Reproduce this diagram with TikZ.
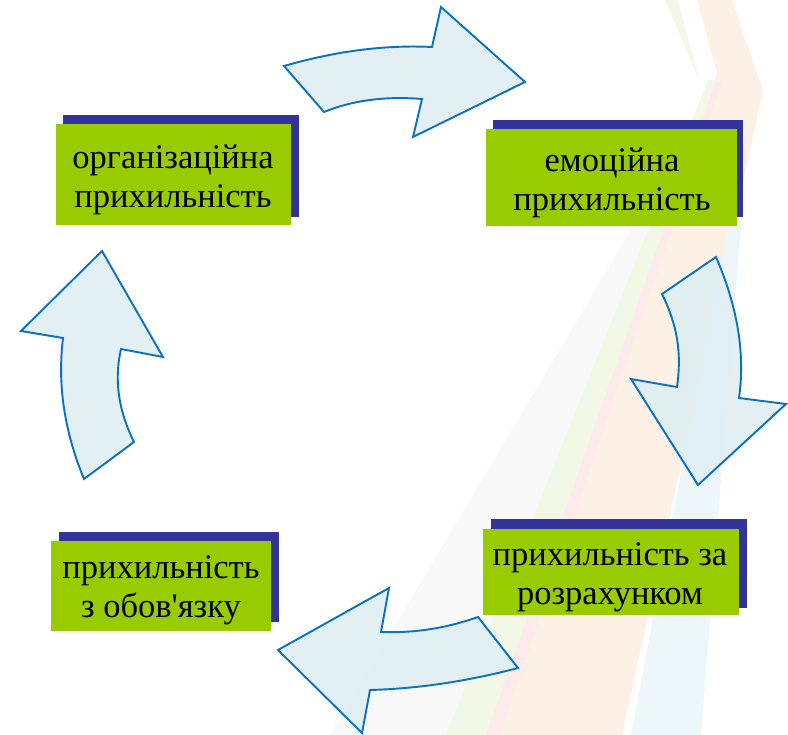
\documentclass[tikz,border=0pt]{standalone}
\usepackage{fontspec}
\newfontfamily\boxfont{Liberation Serif}
\definecolor{boxgreen}{HTML}{99CC00}
\definecolor{boxshadow}{HTML}{333399}
\definecolor{arrowfill}{HTML}{DDEEF2}
\definecolor{arrowline}{HTML}{0A70C0}
\definecolor{bgpeach}{HTML}{FDF1E6}
\definecolor{bggreen}{HTML}{F3F8E6}
\definecolor{bgpink}{HTML}{FCEBEA}
\definecolor{bgblue}{HTML}{EDF6F9}
\definecolor{bggrey}{HTML}{F8F8F8}
\tikzset{
  greenbox/.style={fill=boxgreen, draw=none, inner sep=0pt},
  boxtext/.style={inner sep=0pt, align=center,
    font=\boxfont\fontsize{34.5}{39}\selectfont, text=black},
  shadowbox/.style={fill=boxshadow, draw=none, inner sep=0pt},
  bigarrow/.style={fill=arrowfill, fill opacity=0.85, draw=arrowline, line width=1.9pt, line join=miter},
}
\begin{document}
\begin{tikzpicture}[x=1pt,y=-1pt]
\useasboundingbox (0,0) rectangle (788,735);
\fill[white] (0,0) rectangle (788,735);
% background streaks
\fill[bggrey] (640,215) -- (660,225) -- (446,735) -- (330,735) -- cycle;
\fill[bgpeach] (697,0) -- (732,0) -- (763,91) -- (622,735) -- (490,735) -- (717,73) -- cycle;
\fill[bgpink] (714,82) -- (722,82) -- (500,735) -- (484,735) -- cycle;
\fill[bggreen] (708,80) -- (716,80) -- (486,735) -- (446,735) -- cycle;
\fill[bggreen] (665,0) -- (678,0) -- (699,80) -- cycle;
\fill[bgblue] (728,225) -- (741,225) -- (701,735) -- (631,735) -- cycle;

% boxes
\node[shadowbox, minimum width=236pt, minimum height=102pt] (s1) at (181,166) {};
\node[greenbox, minimum width=235pt, minimum height=101pt] (b1) at (173.5,174.5) {};
\node[boxtext] (t1) at (173,180) {організаційна\\прихильність};

\node[shadowbox, minimum width=250pt, minimum height=97pt] (s2) at (618,168.5) {};
\node[greenbox, minimum width=251pt, minimum height=97pt] (b2) at (611.5,177.5) {};
\node[boxtext] (t2) at (612,182.5) {емоційна\\прихильність};

\node[shadowbox, minimum width=256pt, minimum height=89pt] (s3) at (619,563.5) {};
\node[greenbox, minimum width=256pt, minimum height=86pt] (b3) at (611,572) {};
\node[boxtext] (t3) at (610,577) {прихильність за\\розрахунком};

\node[shadowbox, minimum width=220pt, minimum height=90pt] (s4) at (169,577) {};
\node[greenbox, minimum width=220pt, minimum height=90pt] (b4) at (161,586) {};
\node[boxtext] (t4) at (161,590.5) {прихильність\\з обов'язку};

% arrows
\draw[bigarrow] (284,66) -- (324,112) .. controls (352.7,100.3) and (385.3,96) .. (422,99) -- (413,137)
  -- (525,82) -- (441,7) -- (432,47) .. controls (385.3,44.7) and (336,51) .. (284,66) -- cycle;
\draw[bigarrow] (716,257) -- (662,294) .. controls (677,324.7) and (682,351.7) .. (677,387) -- (631,379)
  -- (698,485) -- (786,404) -- (739,398) .. controls (745.3,354) and (737.7,307) .. (716,257) -- cycle;
\draw[bigarrow] (478,617) -- (518,668) .. controls (467.3,681.3) and (418,688.7) .. (370,690) -- (362,733)
  -- (278,650) -- (389,588) -- (381,632) .. controls (413.7,633.3) and (446,628.3) .. (478,617) -- cycle;
\draw[bigarrow] (84,479) -- (134,442) .. controls (118.3,410.3) and (114,379.7) .. (121,349) -- (163,357)
  -- (102,251) -- (21,331) -- (63,338) .. controls (57.3,384.3) and (64.3,431.3) .. (84,479) -- cycle;
\end{tikzpicture}
\end{document}
